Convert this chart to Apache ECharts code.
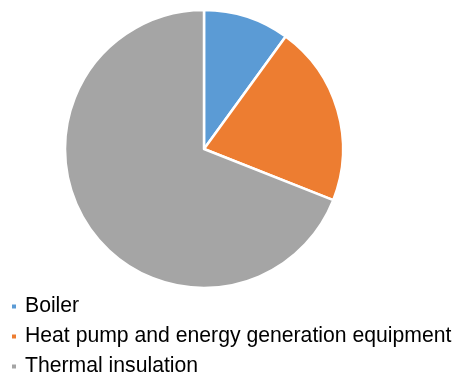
<!DOCTYPE html>
<html>
<head>
<meta charset="utf-8">
<script src="https://cdn.jsdelivr.net/npm/echarts@6/dist/echarts.min.js"></script>
<style>html,body{margin:0;padding:0;background:#fff;}#c{width:457px;height:374px;}</style>
</head>
<body>
<div id="c"></div>
<script>
const categories = ['Boiler', 'Heat pump and energy generation equipment', 'Thermal insulation'];
const values = [10, 21, 69];
const colors = ['#5B9BD5', '#ED7D31', '#A5A5A5'];

const chart = echarts.init(document.getElementById('c'), null, {renderer: 'canvas'});
chart.setOption({
  animation: false,
  color: colors,
  legend: {
    orient: 'vertical',
    left: 10,
    top: 296,
    height: 100,
    padding: 0,
    itemWidth: 6,
    itemHeight: 6,
    itemGap: 9,
    icon: 'rect',
    textStyle: {fontFamily: 'Liberation Sans, Arial, sans-serif', fontSize: 21.2, color: '#000', padding: [0, 0, 0, 3]},
    data: categories
  },
  series: [{
    type: 'pie',
    center: [204, 149],
    radius: [0, 139],
    startAngle: 90,
    clockwise: true,
    label: {show: false},
    labelLine: {show: false},
    emphasis: {disabled: true},
    itemStyle: {borderColor: '#fff', borderWidth: 2.5},
    data: categories.map((c, i) => ({name: c, value: values[i]}))
  }]
});
</script>
</body>
</html>
